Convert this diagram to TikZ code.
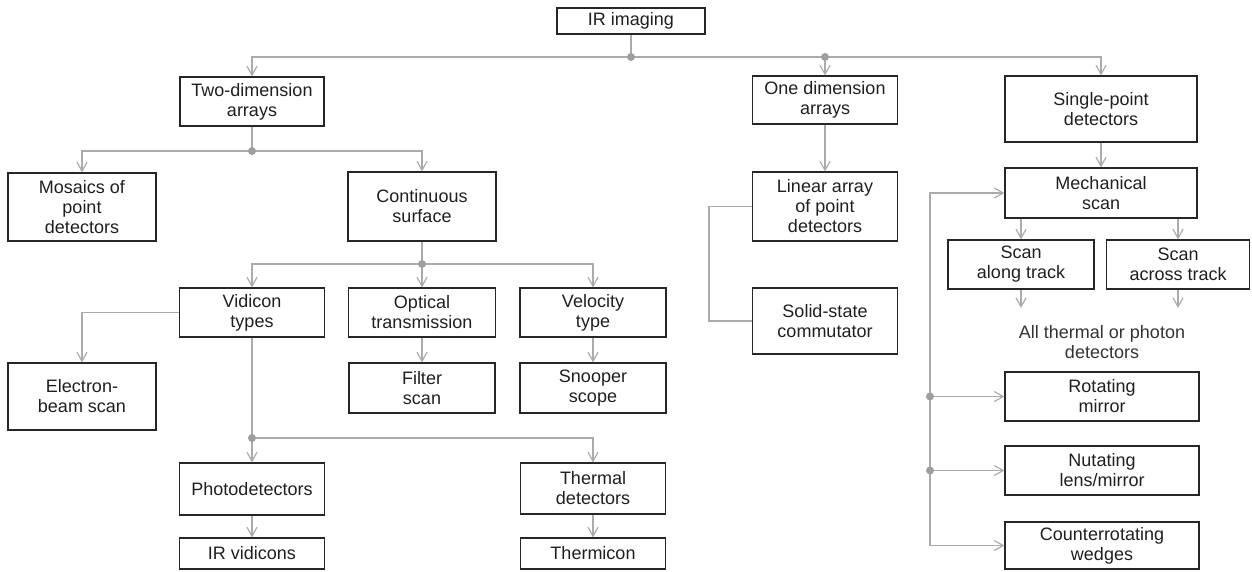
\documentclass[tikz,border=0pt]{standalone}
\usepackage{fontspec}
\setmainfont{Liberation Sans}
\usetikzlibrary{arrows.meta}
\newcommand{\diafs}{\fontsize{18}{20}\selectfont}
\begin{document}
\begin{tikzpicture}[x=1pt,y=-1pt,
  box/.style={draw=black!85, line width=1.1pt, inner sep=0pt, align=center, font=\diafs, text=black!88},
  conn/.style={draw=black!33, line width=1.3pt},
  arr/.style={conn, -{Straight Barb[length=9pt,width=10pt,line width=1.2pt]}},
  dot/.style={circle, fill=black!38, inner sep=0pt, minimum size=8pt},
  note/.style={align=center, font=\diafs, text=black!80, inner sep=0pt}]
\useasboundingbox (0,0) rectangle (1252,571);
% boxes
\node[box,minimum width=148pt,minimum height=26pt] (ir) at (631,21) {IR imaging};
\node[box,minimum width=144pt,minimum height=49pt] (two) at (252,101.5) {Two-dimension\\arrays};
\node[box,minimum width=145pt,minimum height=48pt] (one) at (825,100) {One dimension\\arrays};
\node[box,minimum width=192pt,minimum height=66pt] (single) at (1101,109) {Single-point\\detectors};
\node[box,minimum width=148pt,minimum height=68pt] (mosaic) at (82,207) {Mosaics of\\point\\detectors};
\node[box,minimum width=148pt,minimum height=69pt] (cont) at (422,206.5) {Continuous\\surface};
\node[box,minimum width=145pt,minimum height=69pt] (linear) at (825,206.5) {Linear array\\of point\\detectors};
\node[box,minimum width=192pt,minimum height=50pt] (mech) at (1101,193) {Mechanical\\scan};
\node[box,minimum width=145pt,minimum height=49pt] (vidicon) at (252,312.5) {Vidicon\\types};
\node[box,minimum width=147pt,minimum height=49pt] (optical) at (422,312.5) {Optical\\transmission};
\node[box,minimum width=146pt,minimum height=49pt] (velocity) at (593,312.5) {Velocity\\type};
\node[box,minimum width=145pt,minimum height=66pt] (solid) at (825,321) {Solid-state\\commutator};
\node[box,minimum width=146pt,minimum height=49pt] (along) at (1021,264.5) {Scan\\along track};
\node[box,minimum width=143pt,minimum height=49pt] (across) at (1178,264.5) {Scan\\across track};
\node[box,minimum width=148pt,minimum height=67pt] (electron) at (82,396.5) {Electron-\\beam scan};
\node[box,minimum width=146pt,minimum height=50pt] (filter) at (422,388) {Filter\\scan};
\node[box,minimum width=146pt,minimum height=50pt] (snooper) at (593,388) {Snooper\\scope};
\node[box,minimum width=194pt,minimum height=49pt] (rotating) at (1102,396.5) {Rotating\\mirror};
\node[box,minimum width=145pt,minimum height=52pt] (photo) at (252,489) {Photodetectors};
\node[box,minimum width=145pt,minimum height=51pt] (thermal) at (593,488.5) {Thermal\\detectors};
\node[box,minimum width=194pt,minimum height=49pt] (nutating) at (1102,470.5) {Nutating\\lens/mirror};
\node[box,minimum width=145pt,minimum height=31pt] (irvid) at (252,553.5) {IR vidicons};
\node[box,minimum width=145pt,minimum height=31pt] (thermicon) at (593,553.5) {Thermicon};
\node[box,minimum width=194pt,minimum height=47pt] (counter) at (1102,545.5) {Counterrotating\\wedges};
\node[note] (allnote) at (1102,342) {All thermal or photon\\detectors};
% junctions
\coordinate (j1) at (631,57);
\coordinate (j1b) at (825,57);
\coordinate (j2) at (252,151);
\coordinate (j3) at (422,264);
\coordinate (j4) at (252,438);
\coordinate (e1) at (1021,308);
\coordinate (e2) at (1178,308);
\coordinate (lc) at (930,545.5);
\coordinate (d1) at (930,396.5);
\coordinate (d2) at (930,470.5);
% connectors
\draw[conn] (ir) -- (j1);
\draw[arr] (j1) -| (two);
\draw[arr] (j1) -| (one);
\draw[arr] (j1) -| (single);
\draw[conn] (two) -- (j2);
\draw[arr] (j2) -| (mosaic);
\draw[arr] (j2) -| (cont);
\draw[conn] (cont) -- (j3);
\draw[arr] (j3) -| (vidicon);
\draw[arr] (j3) -- (optical);
\draw[arr] (j3) -| (velocity);
\draw[arr] (vidicon.west) -| (electron);
\draw[conn] (vidicon) -- (j4);
\draw[arr] (j4) -- (photo);
\draw[arr] (j4) -| (thermal);
\draw[arr] (optical) -- (filter);
\draw[arr] (velocity) -- (snooper);
\draw[arr] (photo) -- (irvid);
\draw[arr] (thermal) -- (thermicon);
\draw[arr] (one) -- (linear);
\draw[conn] (linear.west) -- ++(-43,0) |- (solid.west);
\draw[arr] (single) -- (mech);
\draw[arr] (mech.south -| along) -- (along);
\draw[arr] (mech.south -| across) -- (across);
\draw[arr] (along) -- (e1);
\draw[arr] (across) -- (e2);
\draw[arr] (lc) |- (mech.west);
\draw[arr] (lc) -- (counter);
\draw[arr] (d1) -- (rotating);
\draw[arr] (d2) -- (nutating);
% dots
\node[dot] (dj1) at (j1) {};
\node[dot] (dj1b) at (j1b) {};
\node[dot] (dj2) at (j2) {};
\node[dot] (dj3) at (j3) {};
\node[dot] (dj4) at (j4) {};
\node[dot] (dd1) at (d1) {};
\node[dot] (dd2) at (d2) {};
\end{tikzpicture}
\end{document}
